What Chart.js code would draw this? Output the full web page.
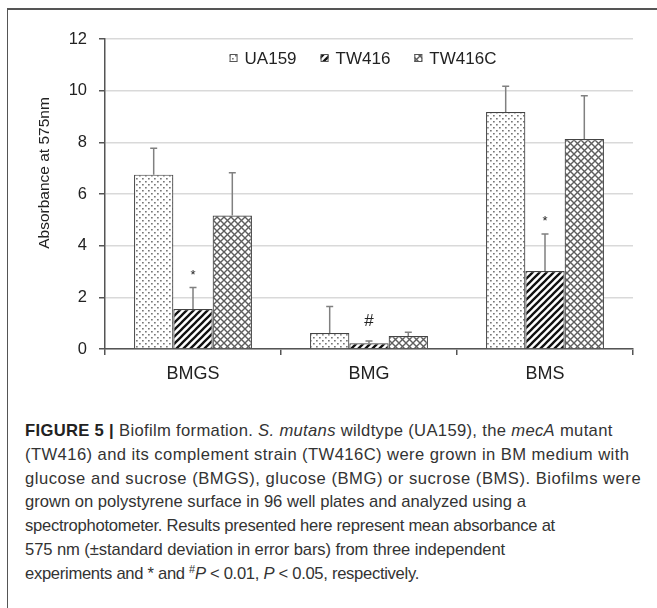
<!DOCTYPE html>
<html>
<head>
<meta charset="utf-8">
<script src="https://cdn.jsdelivr.net/npm/chart.js@4"></script>
<style>
  body { margin: 0; background: #fff; }
  #wrap { position: relative; width: 657px; height: 608px; overflow: hidden; }
  #frame { position: absolute; left: 7px; top: 8px; width: 660px; height: 620px;
           border-top: 2px solid #555; border-left: 1.5px solid #555; }
  #chart { position: absolute; left: 0; top: 0; }
  #caption { position: absolute; left: 25px; top: 419px; white-space: nowrap;
             font-family: "Liberation Sans", Arial, sans-serif; font-size: 16.6px;
             line-height: 23.8px; color: #333; }
  #caption b { color: #222; }
  #caption sup { font-size: 11px; line-height: 0; vertical-align: 6px; }
</style>
</head>
<body>
<div id="wrap">
  <div id="frame"></div>
  <canvas id="chart" width="657" height="400"></canvas>
  <div id="caption">
    <div style="letter-spacing:0.33px"><b>FIGURE 5 |</b> Biofilm formation. <i>S. mutans</i> wildtype (UA159), the <i>mecA</i> mutant</div>
    <div style="letter-spacing:0.42px">(TW416) and its complement strain (TW416C) were grown in BM medium with</div>
    <div style="letter-spacing:0.52px">glucose and sucrose (BMGS), glucose (BMG) or sucrose (BMS). Biofilms were</div>
    <div>grown on polystyrene surface in 96 well plates and analyzed using a</div>
    <div style="letter-spacing:-0.27px">spectrophotometer. Results presented here represent mean absorbance at</div>
    <div style="letter-spacing:-0.09px">575 nm (&plusmn;standard deviation in error bars) from three independent</div>
    <div style="letter-spacing:-0.3px">experiments and * and <sup>#</sup><i>P</i> &lt; 0.01, <i>P</i> &lt; 0.05, respectively.</div>
  </div>
</div>
<script>
var categories = ['BMGS', 'BMG', 'BMS'];
var seriesNames = ['UA159', 'TW416', 'TW416C'];
var ua159 = [6.75, 0.62, 9.17];
var tw416 = [1.55, 0.22, 3.02];
var tw416c = [5.17, 0.50, 8.13];
var ua159Sd = [1.02, 1.03, 1.00];
var tw416Sd = [0.83, 0.09, 1.43];
var tw416cSd = [1.65, 0.15, 1.67];
var tw416Marks = ['*', '#', '*'];
var yMin = 0, yMax = 12, yStep = 2;
var yTitle = 'Absorbance at 575nm';

var font = '"Liberation Sans", Arial, sans-serif';

function makePattern(kind) {
    var c = document.createElement('canvas');
    var g = c.getContext('2d');
    c.width = 7; c.height = 7;
    g.fillStyle = '#fff';
    g.fillRect(0, 0, 7, 7);
    if (kind === 'dots') {
        c.width = 6; c.height = 6;
        g.fillStyle = '#fff';
        g.fillRect(0, 0, 6, 6);
        g.fillStyle = '#777';
        g.fillRect(1, 1, 1.7, 1.5);
        g.fillRect(4, 4, 1.7, 1.5);
    } else if (kind === 'stripes') {
        g.strokeStyle = '#111';
        g.lineWidth = 2.3;
        g.beginPath();
        g.moveTo(-1, 8); g.lineTo(8, -1);
        g.moveTo(-2, 2); g.lineTo(2, -2);
        g.moveTo(5, 9); g.lineTo(9, 5);
        g.stroke();
    } else {
        g.strokeStyle = '#5e5e5e';
        g.lineWidth = 1.4;
        g.beginPath();
        g.moveTo(-1, 8); g.lineTo(8, -1);
        g.moveTo(-1, -1); g.lineTo(8, 8);
        g.stroke();
    }
    return g.createPattern(c, 'repeat');
}

var fills = [makePattern('dots'), makePattern('stripes'), makePattern('cross')];
var sds = [ua159Sd, tw416Sd, tw416cSd];

// error bars, significance marks, legend and y title
var extras = {
    id: 'extras',
    afterDatasetsDraw: function (chart) {
        var ctx = chart.ctx, y = chart.scales.y;
        ctx.save();
        chart.data.datasets.forEach(function (ds, i) {
            var meta = chart.getDatasetMeta(i);
            meta.data.forEach(function (bar, j) {
                var top = y.getPixelForValue(ds.data[j] + sds[i][j]);
                ctx.strokeStyle = '#808080';
                ctx.lineWidth = 1.5;
                ctx.beginPath();
                ctx.moveTo(bar.x, bar.y);
                ctx.lineTo(bar.x, top);
                ctx.moveTo(bar.x - 3.5, top);
                ctx.lineTo(bar.x + 3.5, top);
                ctx.stroke();
                if (i === 1 && tw416Marks[j]) {
                    var m = tw416Marks[j];
                    ctx.fillStyle = '#222';
                    ctx.textAlign = 'center';
                    ctx.textBaseline = 'alphabetic';
                    ctx.font = (m === '#' ? '17px ' : '13px ') + font;
                    ctx.fillText(m, bar.x, top - (m === '#' ? 15 : 9));
                }
            });
        });

        // legend inside the plot
        ctx.font = '17px ' + font;
        var box = 8, gap = 7, spacing = 24;
        var widths = chart.data.datasets.map(function (ds) { return ctx.measureText(ds.label).width; });
        var total = 0;
        widths.forEach(function (w) { total += box + gap + w; });
        total += spacing * (widths.length - 1);
        var area = chart.chartArea;
        var x = (area.left + area.right) / 2 - total / 2 - 6;
        var ly = 58;
        chart.data.datasets.forEach(function (ds, i) {
            ctx.fillStyle = ds.backgroundColor;
            ctx.fillRect(x, ly - box / 2, box, box);
            ctx.strokeStyle = '#555';
            ctx.lineWidth = 1;
            ctx.strokeRect(x + 0.5, ly - box / 2 + 0.5, box - 1, box - 1);
            ctx.fillStyle = '#222';
            ctx.textAlign = 'left';
            ctx.textBaseline = 'middle';
            ctx.fillText(ds.label, x + box + gap, ly + 1);
            x += box + gap + widths[i] + spacing;
        });

        // y axis title
        ctx.translate(45, 173);
        ctx.rotate(-Math.PI / 2);
        ctx.font = '15.5px ' + font;
        ctx.fillStyle = '#222';
        ctx.textAlign = 'center';
        ctx.textBaseline = 'middle';
        ctx.fillText(yTitle, 0, 0);
        ctx.restore();
    }
};

var values = [ua159, tw416, tw416c];
var datasets = [];
for (var i = 0; i < seriesNames.length; i++) {
    datasets.push({
        label: seriesNames[i],
        data: values[i],
        backgroundColor: fills[i],
        borderColor: '#444',
        borderWidth: 1.2,
        categoryPercentage: 0.67,
        barPercentage: 1.0
    });
}

new Chart(document.getElementById('chart').getContext('2d'), {
    type: 'bar',
    data: { labels: categories, datasets: datasets },
    plugins: [extras],
    options: {
        responsive: false,
        animation: false,
        layout: { padding: { top: 39, right: 24, left: 0, bottom: 0 } },
        plugins: { legend: { display: false }, tooltip: { enabled: false } },
        scales: {
            x: {
                afterFit: function (s) { s.height = 51; },
                grid: { drawOnChartArea: false, tickLength: 6, tickColor: '#555', lineWidth: 1.5 },
                border: { color: '#555', width: 1.5 },
                ticks: { color: '#222', font: { size: 18, family: font }, padding: 8 }
            },
            y: {
                min: yMin, max: yMax,
                afterFit: function (s) { s.width = 105; },
                grid: { color: '#d9d9d9', lineWidth: 1.5, tickLength: 6, tickColor: '#555' },
                border: { color: '#555', width: 1.5 },
                ticks: { stepSize: yStep, color: '#222', font: { size: 16.5, family: font }, padding: 12 }
            }
        }
    }
});
</script>
</body>
</html>
